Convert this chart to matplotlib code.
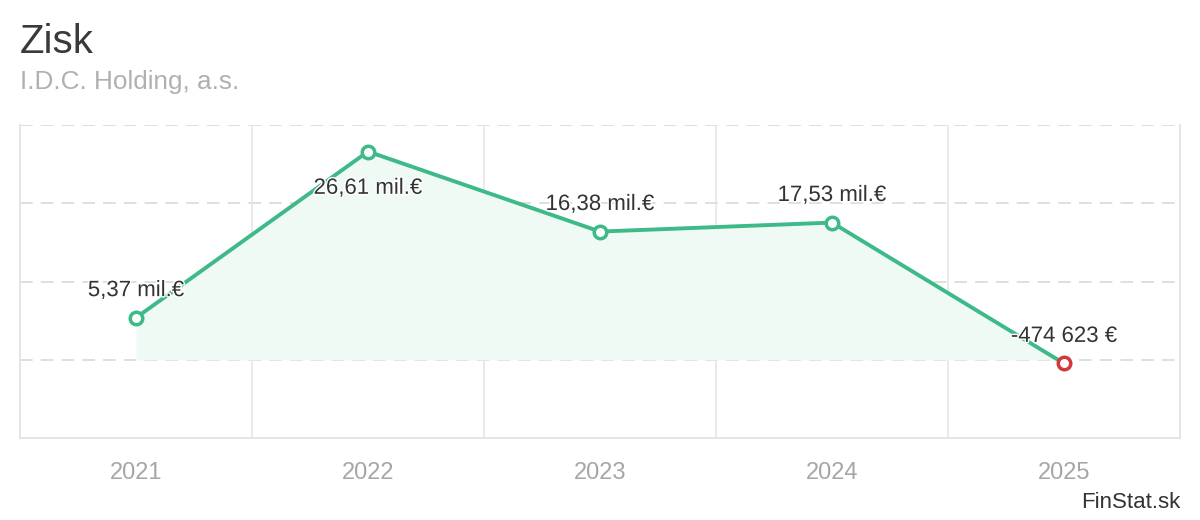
import matplotlib.pyplot as plt
import matplotlib.patheffects as pe

roky = ["2021", "2022", "2023", "2024", "2025"]
zisk_mil = [5.37, 26.61, 16.38, 17.53, -0.474623]
popisky = ["5,37 mil.€", "26,61 mil.€", "16,38 mil.€", "17,53 mil.€", "-474 623 €"]

plt.rcParams['font.family'] = ['Liberation Sans', 'DejaVu Sans']

ZELENA = '#3dba87'
CERVENA = '#d03a3a'

fig = plt.figure(figsize=(12, 5.2), dpi=100)
ax = fig.add_axes([20 / 1200, 82 / 520, 1160 / 1200, 313 / 520])

x = list(range(len(roky)))

# plocha pod ciarou po nulu
ax.fill_between(x, zisk_mil, 0, color='#f0faf5', zorder=1, linewidth=0)
ax.plot(x, zisk_mil, color=ZELENA, linewidth=2.8, zorder=3, solid_capstyle='round')

for i, v in enumerate(zisk_mil):
    farba = CERVENA if v < 0 else ZELENA
    ax.plot(i, v, marker='o', markersize=9, markerfacecolor='white',
            markeredgecolor=farba, markeredgewidth=2.5, zorder=4)
    # najvyssi bod ma popisok pod sebou
    dy = -26.5 if v == max(zisk_mil) else 19.5
    ax.annotate(popisky[i], (i, v), xytext=(0, dy), textcoords='offset points',
                ha='center', va='center', fontsize=16, color='#333333', zorder=5,
                path_effects=[pe.withStroke(linewidth=2, foreground='white')])

ax.set_xlim(-0.5, len(roky) - 0.5)
ax.set_ylim(-10, 30)

# mriezka
for y in [0, 10, 20, 30]:
    ax.axhline(y, color='#dcdcdc', linewidth=1.3, dashes=(7, 4.5), zorder=0)
for b in [0.5, 1.5, 2.5, 3.5]:
    ax.axvline(b, color='#e6e6e6', linewidth=1.2, zorder=0)

ax.spines['top'].set_visible(False)
for s in ['left', 'right', 'bottom']:
    ax.spines[s].set_color('#e3e3e3')
    ax.spines[s].set_linewidth(1.3)

ax.set_yticks([])
ax.set_xticks(x)
ax.set_xticklabels(roky)
ax.tick_params(axis='x', length=0, pad=17, labelsize=17, labelcolor='#a6a6a6')

fig.text(20 / 1200, 1 - 53 / 520, "Zisk", fontsize=29, color='#3a3a3a', va='baseline')
fig.text(20 / 1200, 1 - 89 / 520, "I.D.C. Holding, a.s.", fontsize=18.8, color='#b0b0b0', va='baseline')
fig.text(1180 / 1200, 1 - 508 / 520, "FinStat.sk", fontsize=16, color='#333333',
         va='baseline', ha='right')

fig.savefig('out.png', dpi=100, facecolor='white')
